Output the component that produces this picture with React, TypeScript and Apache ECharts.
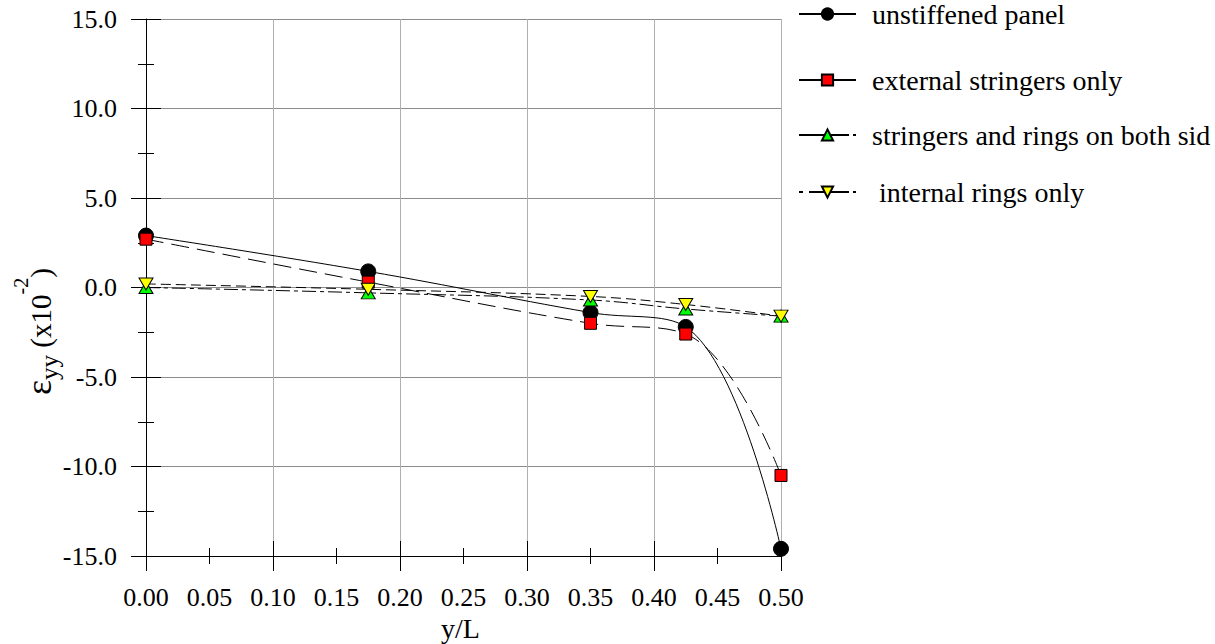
import React, { useEffect, useRef } from "react";
import * as echarts from "echarts";

// ---- data ----
const xPositions = [0, 0.175, 0.35, 0.425, 0.5];
const unstiffenedPanel = [2.9, 0.9, -1.4, -2.2, -14.6];
const externalStringersOnly = [2.7, 0.3, -2.0, -2.6, -10.5];
const stringersAndRingsBothSides = [0.0, -0.3, -0.7, -1.2, -1.6];
const internalRingsOnly = [0.2, -0.1, -0.5, -0.95, -1.6];

// legend texts as visible in the reference (third one is cut by the image edge there)
const seriesNames = [
  "unstiffened panel",
  "external stringers only",
  "stringers and rings on both sid",
  " internal rings only",
];

const xMin = 0;
const xMax = 0.5;
const xLabelStep = 0.05;
const xMajorStep = 0.1;
const yMin = -15;
const yMax = 15;
const yStep = 5;

const FONT = "Liberation Serif";

// y-axis title pieces: text, font size, baseline shift (negative = raised)
const yTitleParts: [string, number, number][] = [
  ["ε", 36, 0],
  ["yy", 25, 7],
  [" (x10", 29, 0],
  ["-2", 20, -23],
  [")", 29, 0],
];

const pairs = (ys: number[]) => xPositions.map((x, i) => [x, ys[i]]);

function measure(text: string, size: number): number {
  const c = document.createElement("canvas").getContext("2d");
  if (!c) return text.length * size * 0.5;
  c.font = `${size}px ${FONT}`;
  return c.measureText(text).width;
}

export default function App() {
  const ref = useRef<HTMLDivElement>(null);

  useEffect(() => {
    if (!ref.current) return;
    const chart = echarts.init(ref.current, null, { renderer: "svg" });

    const baseX = {
      type: "value" as const,
      min: xMin,
      max: xMax,
      position: "bottom" as const,
      gridIndex: 0,
    };
    const baseY = {
      type: "value" as const,
      min: yMin,
      max: yMax,
      interval: yStep,
      position: "left" as const,
      gridIndex: 0,
    };

    // build rotated y-axis title
    let cursor = 0;
    const titleChildren = yTitleParts.map(([t, size, shift]) => {
      const el = {
        type: "text",
        x: cursor,
        y: shift - 0.3375 * size,
        style: {
          text: t,
          fontFamily: FONT,
          fontSize: size,
          fill: "#000",
          align: "left",
          verticalAlign: "middle",
        },
      };
      cursor += measure(t, size);
      return el;
    });

    const legendTops = [-3, 63, 118, 175];
    const legendLineTypes: any[] = ["solid", "solid", [50, 4, 3], [4, 6, 40, 4, 10]];

    chart.setOption({
      animation: false,
      backgroundColor: "#ffffff",
      textStyle: { fontFamily: FONT },
      grid: { left: 146, right: 434, top: 19, bottom: 88, containLabel: false, outerBoundsMode: "none" },
      legend: seriesNames.map((name, i) => ({
        orient: "vertical",
        left: 798,
        top: legendTops[i],
        padding: 0,
        itemWidth: 57,
        itemHeight: 14,
        selectedMode: false,
        data: [name],
        lineStyle: { type: legendLineTypes[i] },
        textStyle: { fontFamily: FONT, fontSize: 28, color: "#000", lineHeight: 28, padding: [6, 0, 0, 11] },
      })),
      graphic: [
        {
          type: "group",
          x: 51,
          y: 395,
          rotation: Math.PI / 2,
          children: titleChildren,
        },
      ],
      xAxis: [
        {
          ...baseX,
          interval: xLabelStep,
          axisLine: { show: true, onZero: false, lineStyle: { color: "#000", width: 1 } },
          axisTick: { show: false },
          axisLabel: {
            show: true,
            margin: 28,
            fontFamily: FONT,
            fontSize: 26,
            color: "#000",
            formatter: (v: number) => v.toFixed(2),
          },
          splitLine: { show: false },
          name: "y/L",
          nameLocation: "middle",
          nameGap: 51,
          nameTextStyle: { fontFamily: FONT, fontSize: 28, color: "#000", padding: [0, 6, 0, 0] },
        },
        {
          ...baseX,
          interval: xMajorStep,
          axisLine: { show: false, onZero: false },
          axisTick: { show: true, length: 15, lineStyle: { color: "#000", width: 1 } },
          minorTick: { show: true, splitNumber: 2, length: 8, lineStyle: { color: "#000", width: 1 } },
          axisLabel: { show: false },
          splitLine: { show: true, lineStyle: { color: "#b0b0b0", width: 1 } },
        },
        {
          ...baseX,
          interval: xMajorStep,
          axisLine: { show: false, onZero: false },
          axisTick: { show: true, inside: true, length: 15, lineStyle: { color: "#000", width: 1 } },
          minorTick: { show: true, splitNumber: 2, length: 8, lineStyle: { color: "#000", width: 1 } },
          axisLabel: { show: false },
          splitLine: { show: false },
        },
      ],
      yAxis: [
        {
          ...baseY,
          axisLine: { show: true, onZero: false, lineStyle: { color: "#000", width: 1 } },
          axisTick: { show: true, length: 15, lineStyle: { color: "#000", width: 1 } },
          minorTick: { show: true, splitNumber: 2, length: 8, lineStyle: { color: "#000", width: 1 } },
          axisLabel: {
            show: true,
            margin: 29,
            fontFamily: FONT,
            fontSize: 26,
            color: "#000",
            formatter: (v: number) => v.toFixed(1),
          },
          splitLine: { show: true, lineStyle: { color: "#8c8c8c", width: 1 } },
        },
        {
          ...baseY,
          axisLine: { show: false, onZero: false },
          axisTick: { show: true, inside: true, length: 15, lineStyle: { color: "#000", width: 1 } },
          minorTick: { show: true, splitNumber: 2, length: 8, lineStyle: { color: "#000", width: 1 } },
          axisLabel: { show: false },
          splitLine: { show: false },
        },
      ],
      series: [
        {
          name: seriesNames[0],
          type: "line",
          xAxisIndex: 0,
          yAxisIndex: 0,
          data: pairs(unstiffenedPanel),
          smooth: 0.4,
          symbol: "circle",
          symbolSize: 15,
          itemStyle: { color: "#000", borderColor: "#000", borderWidth: 1 },
          lineStyle: { color: "#000", width: 1, type: "solid" },
        },
        {
          name: seriesNames[1],
          type: "line",
          xAxisIndex: 0,
          yAxisIndex: 0,
          data: pairs(externalStringersOnly),
          smooth: 0.4,
          symbol: "rect",
          symbolSize: 12,
          itemStyle: { color: "#ff0000", borderColor: "#000", borderWidth: 1 },
          lineStyle: { color: "#000", width: 1, type: [18, 8] },
        },
        {
          name: seriesNames[2],
          type: "line",
          xAxisIndex: 0,
          yAxisIndex: 0,
          data: pairs(stringersAndRingsBothSides),
          smooth: 0.4,
          symbol: "triangle",
          symbolSize: [14, 12],
          itemStyle: { color: "#00ff00", borderColor: "#000", borderWidth: 1 },
          lineStyle: { color: "#000", width: 1, type: [14, 4, 4, 4] },
        },
        {
          name: seriesNames[3],
          type: "line",
          xAxisIndex: 0,
          yAxisIndex: 0,
          data: pairs(internalRingsOnly),
          smooth: 0.4,
          symbol: "triangle",
          symbolRotate: 180,
          symbolSize: [14, 12],
          itemStyle: { color: "#ffff00", borderColor: "#000", borderWidth: 1 },
          lineStyle: { color: "#000", width: 1, type: [10, 5] },
        },
      ],
    });

    return () => chart.dispose();
  }, []);

  return (
    <div
      ref={ref}
      style={{ position: "absolute", left: 0, top: 0, width: 1215, height: 644, background: "#fff" }}
    />
  );
}
